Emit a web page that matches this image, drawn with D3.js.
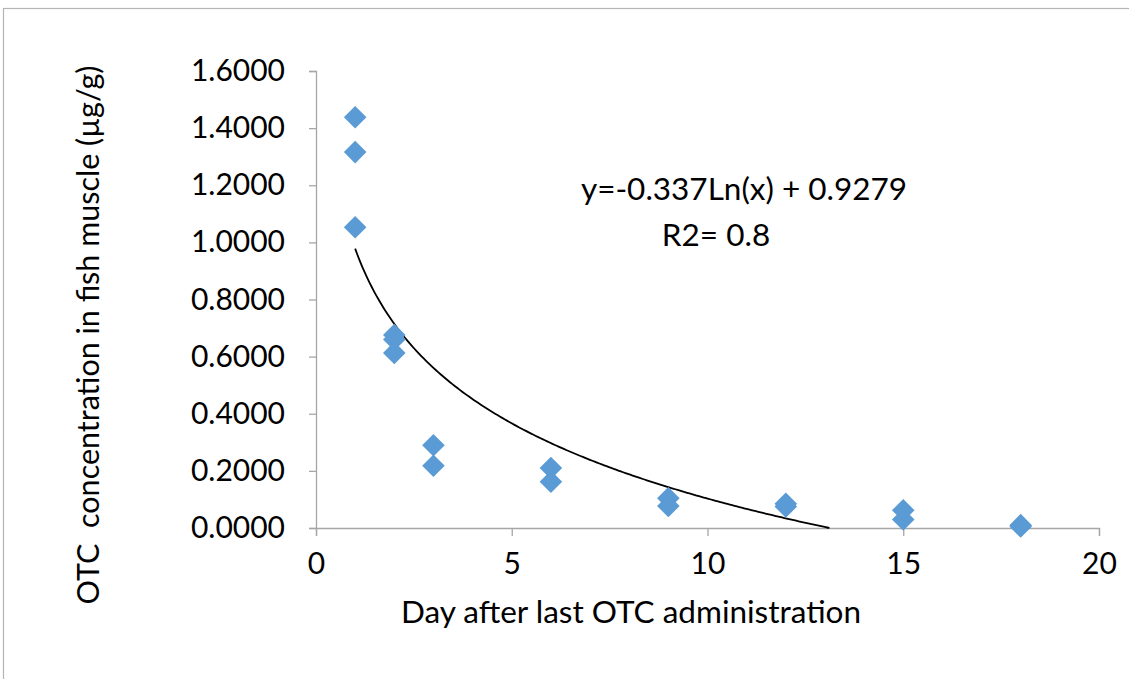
<!DOCTYPE html>
<html>
<head>
<meta charset="utf-8">
<script src="https://cdn.jsdelivr.net/npm/d3@7"></script>
<style>
  body { margin: 0; background: #fff; }
  svg text { font-family: Lato, "Open Sans", sans-serif; fill: #000; }
</style>
</head>
<body>
<svg id="chart"></svg>
<script>
// days after last administration, and measured concentrations (µg/g)
const days = [1, 1, 1, 2, 2, 2, 3, 3, 6, 6, 9, 9, 12, 12, 15, 15, 18, 18];
const conc = [1.438, 1.316, 1.053, 0.676, 0.660, 0.613, 0.290, 0.218, 0.210, 0.162,
              0.104, 0.077, 0.085, 0.075, 0.062, 0.030, 0.010, 0.005];
const yTicks = [0, 0.2, 0.4, 0.6, 0.8, 1.0, 1.2, 1.4, 1.6];
const xTicks = [0, 5, 10, 15, 20];
// log trendline as drawn: y = trendA - trendB * ln(x)
const trendA = 0.978;
const trendB = 0.38;
const equationLines = ["y=-0.337Ln(x) + 0.9279", "R2= 0.8"];

const W = 1129, H = 679;
const margin = { top: 71, left: 316, right: 30, bottom: 151 };
const width = W - margin.left - margin.right;
const height = H - margin.top - margin.bottom;

const svg = d3.select("#chart").attr("width", W).attr("height", H);

// outer chart border (partially cut off in the original)
svg.append("rect")
  .attr("x", 3.5).attr("y", 8.5)
  .attr("width", 1300).attr("height", 900)
  .attr("fill", "none").attr("stroke", "#b4b4b4").attr("stroke-width", 1.2);

const g = svg.append("g").attr("transform", `translate(${margin.left},${margin.top})`);

const x = d3.scaleLinear().domain([0, 20]).range([0, width]);
const y = d3.scaleLinear().domain([0, 1.6]).range([height, 0]);

const xAxis = g.append("g")
  .attr("transform", `translate(0,${height})`)
  .call(d3.axisBottom(x).tickValues(xTicks).tickSize(8).tickPadding(17).tickFormat(d3.format("d")));
const yAxis = g.append("g")
  .call(d3.axisLeft(y).tickValues(yTicks).tickSize(7).tickPadding(24).tickFormat(d3.format(".4f")));

[xAxis, yAxis].forEach(a => {
  a.select(".domain").attr("stroke", "#a6a6a6").attr("stroke-width", 1.3);
  a.selectAll(".tick line").attr("stroke", "#a6a6a6").attr("stroke-width", 1.3);
  a.selectAll(".tick text").attr("font-size", 30).attr("fill", "#000")
    .style("font-family", "Lato, sans-serif");
});

// trendline, clipped where it reaches zero
const xEnd = Math.min(20, Math.exp(trendA / trendB));
const trendPts = d3.range(0, 201).map(i => {
  const xv = 1 + (xEnd - 1) * i / 200;
  return [xv, Math.max(0, trendA - trendB * Math.log(xv))];
});
g.append("path")
  .datum(trendPts)
  .attr("fill", "none")
  .attr("stroke", "#000")
  .attr("stroke-width", 1.8)
  .attr("d", d3.line().x(d => x(d[0])).y(d => y(d[1])));

// diamond markers
const diamond = d3.symbol().type(d3.symbolSquare).size(255);
g.selectAll("path.pt")
  .data(days.map((d, i) => ({ day: d, val: conc[i] })))
  .join("path")
  .attr("class", "pt")
  .attr("d", diamond)
  .attr("fill", "#5b9bd5")
  .attr("transform", d => `translate(${x(d.day)},${y(d.val)}) rotate(45)`);

// equation annotation
svg.append("text")
  .attr("x", 744).attr("y", 200)
  .attr("text-anchor", "middle").attr("font-size", 31.5)
  .text(equationLines[0]);
svg.append("text")
  .attr("x", 716).attr("y", 246)
  .attr("text-anchor", "middle").attr("font-size", 31.5)
  .text(equationLines[1]);

// axis titles
svg.append("text")
  .attr("x", 631).attr("y", 623)
  .attr("text-anchor", "middle").attr("font-size", 31.5)
  .text("Day after last OTC administration");
svg.append("text")
  .attr("transform", "translate(99,335) rotate(-90)")
  .attr("text-anchor", "middle").attr("font-size", 30.5)
  .attr("xml:space", "preserve")
  .style("white-space", "pre")
  .text("OTC  concentration in fish muscle (µg/g)");
</script>
</body>
</html>
